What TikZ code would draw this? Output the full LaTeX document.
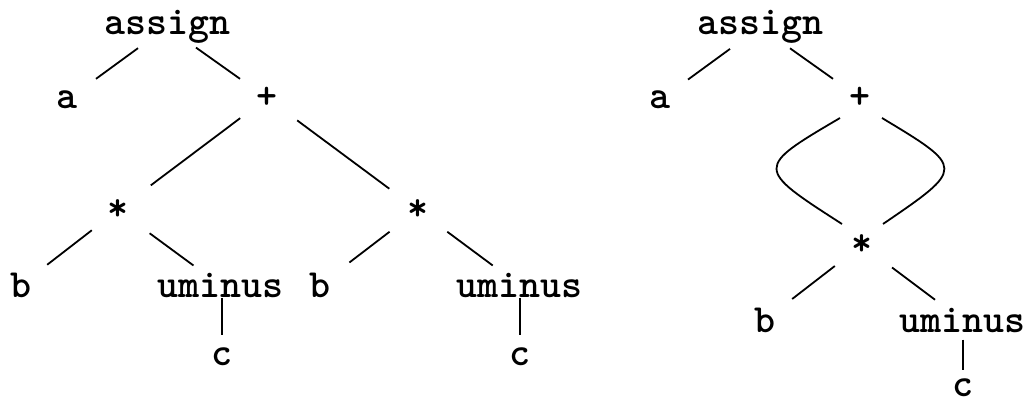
\documentclass[tikz,border=0pt]{standalone}
\usetikzlibrary{calc}
\begin{document}
\begin{tikzpicture}[x=1pt,y=-1pt,
  lbl/.style={font=\ttfamily\bfseries\fontsize{40}{46}\selectfont, inner sep=0pt},
  edge/.style={line width=1.8pt}]
\fill[white] (0,0) rectangle (1030,403);
% left tree
\node[lbl] (as1) at (167,27) {assign};
\node[lbl] (a1) at (67,100) {a};
\node[lbl] (p1) at (267,98) {+};
\node[lbl] (sl) at (118,210) {*};
\node[lbl] (sr) at (418,210) {*};
\node[lbl] (b1) at (21,285) {b};
\node[lbl] (u1) at (220,285) {uminus};
\node[lbl] (b2) at (320,285) {b};
\node[lbl] (u2) at (519,285) {uminus};
\node[lbl] (c1) at (222,357) {c};
\node[lbl] (c2) at (520,357) {c};
\draw[edge] ($(as1)!0.29!(a1)$) -- ($(as1)!0.71!(a1)$);
\draw[edge] ($(as1)!0.29!(p1)$) -- ($(as1)!0.73!(p1)$);
\draw[edge] ($(p1)!0.18!(sl)$) -- ($(p1)!0.78!(sl)$);
\draw[edge] ($(p1)!0.20!(sr)$) -- ($(p1)!0.81!(sr)$);
\draw[edge] ($(sl)!0.27!(b1)$) -- ($(sl)!0.73!(b1)$);
\draw[edge] ($(sl)!0.31!(u1)$) -- ($(sl)!0.74!(u1)$);
\draw[edge] ($(sr)!0.29!(b2)$) -- ($(sr)!0.70!(b2)$);
\draw[edge] ($(sr)!0.29!(u2)$) -- ($(sr)!0.74!(u2)$);
\draw[edge] (c1 |- {$(u1)!0.18!(c1)$}) -- (c1 |- {$(u1)!0.69!(c1)$});
\draw[edge] (c2 |- {$(u2)!0.18!(c2)$}) -- (c2 |- {$(u2)!0.69!(c2)$});
% right tree (DAG)
\node[lbl] (as2) at (760,27) {assign};
\node[lbl] (a3) at (660,100) {a};
\node[lbl] (p2) at (860,98) {+};
\node[lbl] (s3) at (862,245) {*};
\node[lbl] (b3) at (765,320) {b};
\node[lbl] (u3) at (962,320) {uminus};
\node[lbl] (c3) at (963,388) {c};
\draw[edge] ($(as2)!0.30!(a3)$) -- ($(as2)!0.72!(a3)$);
\draw[edge] ($(as2)!0.30!(p2)$) -- ($(as2)!0.73!(p2)$);
\draw[edge] ($(p2)+(-20,20)$) .. controls ($(p2)+(-105,70)$) and ($(p2)+(-105,70)$) .. ($(s3)+(-20,-21)$);
\draw[edge] ($(p2)+(22,20)$) .. controls ($(p2)+(105,70)$) and ($(p2)+(105,70)$) .. ($(s3)+(21,-21)$);
\draw[edge] ($(s3)!0.28!(b3)$) -- ($(s3)!0.72!(b3)$);
\draw[edge] ($(s3)!0.30!(u3)$) -- ($(s3)!0.73!(u3)$);
\draw[edge] (c3 |- {$(u3)!0.29!(c3)$}) -- (c3 |- {$(u3)!0.74!(c3)$});
\end{tikzpicture}
\end{document}
